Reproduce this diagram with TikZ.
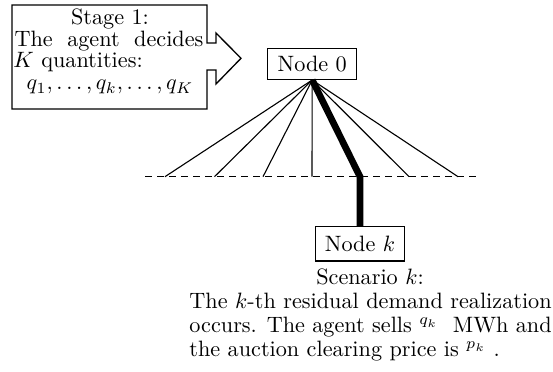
\documentclass[tikz,border=0pt]{standalone}
\begin{document}
\begin{tikzpicture}[x=0.45pt,y=-0.45pt,
  nodebox/.style={draw,line width=0.6pt,inner sep=0pt,minimum width=40pt,minimum height=14pt},
  branch/.style={line width=0.5pt},
  chosen/.style={line width=3pt},
  txt/.style={inner sep=0pt,anchor=base}]
\useasboundingbox (0,0) rectangle (553,372);

% stage-1 box with its arrow pointing at the root
\draw[line width=0.6pt] (12,5) -- (207,5) -- (207,43) -- (216,43) -- (216,33)
  -- (241,58.3) -- (216,84) -- (216,70) -- (207,70) -- (207,109) -- (12,109) -- cycle;
\node[txt] (s1) at (110,25) {Stage 1:};
\node[txt] (s2) at (109,47) {\makebox[85pt][s]{The agent decides}};
\node[txt,anchor=base west] (s3) at (13,68) {$K$ quantities:};
\node[txt] (s4) at (110,90) {$q_1,\ldots,q_k,\ldots,q_K$};

% tree nodes
\node[nodebox] (n0) at (312.2,63.8) {Node 0};
\node[nodebox,minimum width=39.9pt,minimum height=15.4pt] (nk) at (360,243.9) {Node $k$};

% scenario level
\draw[line width=0.5pt,dash pattern=on 3pt off 2.4pt] (145,176.7) -- (478,176.7);
\foreach \i/\x in {1/165,2/214.5,3/263,4/312,5/360,6/409,7/458}
  \coordinate (b\i) at (\x,176.7);
\foreach \i in {1,2,3,4,6,7}
  \draw[branch] (n0.south) -- (b\i);
\draw[chosen] (n0.south) -- (b5) -- (nk.north);

% scenario description
\node[txt] (c0) at (370,285) {Scenario $k$:};
\node[txt,anchor=base west] (c1) at (189,309) {\makebox[163pt][s]{The $k$-th residual demand realization}};
\node[txt,anchor=base west] (c2) at (189,333) {\makebox[163pt][s]{occurs. The agent sells $^{q_k}$\ \ MWh and}};
\node[txt,anchor=base west] (c3) at (189,357) {the auction clearing price is $^{p_k}$\ .};
\end{tikzpicture}
\end{document}
